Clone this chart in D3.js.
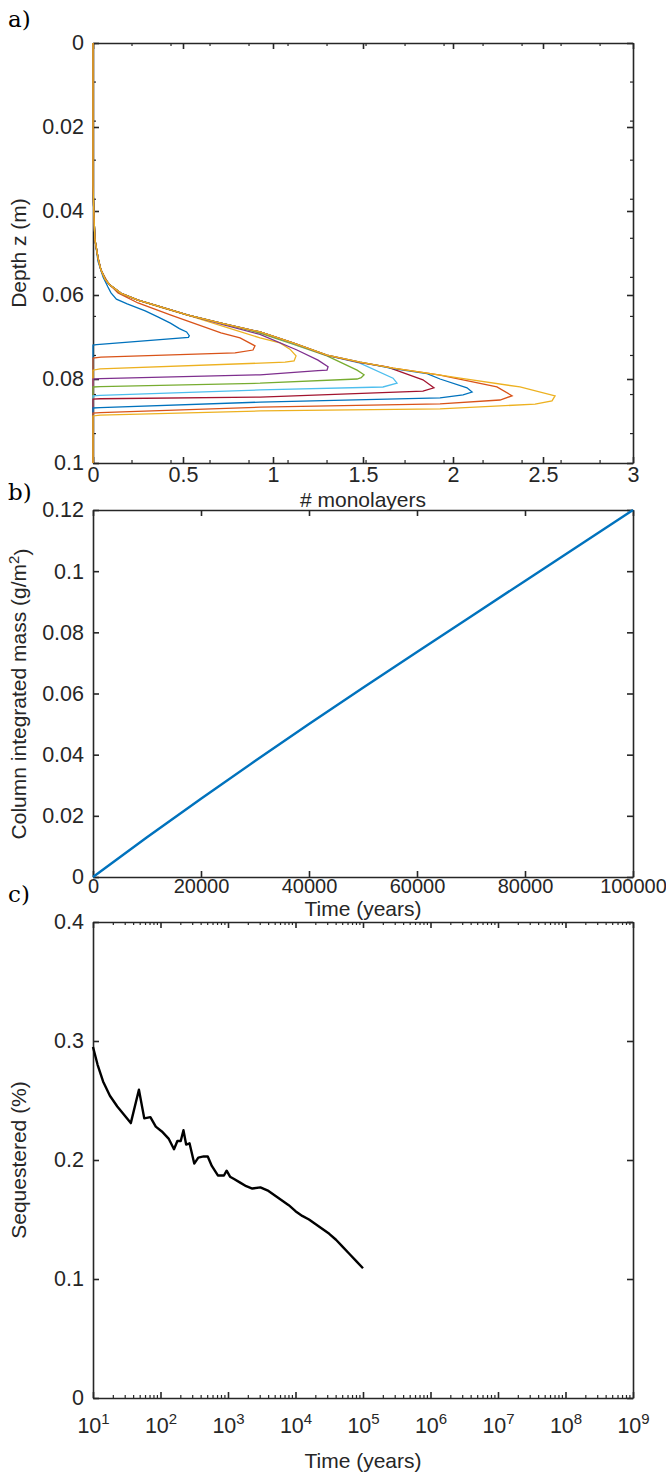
<!DOCTYPE html>
<html lang="en">
<head>
<meta charset="UTF-8">
<title>Monolayer profiles, column mass and sequestered fraction</title>
<script src="https://d3js.org/d3.v7.min.js"></script>
<style>
  body { margin: 0; background: #fff; }
  svg { display: block; font-family: "Liberation Sans", Arial, sans-serif; }
  .title { font-size: 21px; fill: #262626; }
  .tag { font-family: "DejaVu Serif", "Liberation Serif", serif; font-size: 23px; fill: #000; }
</style>
</head>
<body>
<svg width="666" height="1474"></svg>
<script>
// ---- panel a: monolayer profiles (x = # monolayers, z = depth in m)
const depthEnvelope = [[0,0],[0,0.0338],[0.005,0.041],[0.011,0.0469],[0.028,0.0512],[0.044,0.054],
  [0.067,0.0562],[0.094,0.0576],[0.156,0.0596],[0.25,0.0612],[0.344,0.0624],[0.528,0.0648],
  [0.711,0.0667],[0.928,0.0688],[1.111,0.0714],[1.3,0.0743],[1.483,0.076],[1.667,0.0774],
  [1.856,0.0786],[2.039,0.0798],[2.372,0.0819],[2.567,0.084]];
const tail1 = [[0.028,0.052],[0.056,0.0557],[0.083,0.0581],[0.1,0.0595],[0.13,0.061],[0.19,0.0621],[0.29,0.0638],
  [0.36,0.0652],[0.43,0.0667],[0.48,0.068],[0.52,0.0688],[0.535,0.0697],[0.53,0.0701],[0.02,0.0718],[0,0.0719],[0,0.1]];
const tail2 = [[0.05,0.0545],[0.083,0.0571],[0.139,0.0595],[0.25,0.0619],[0.433,0.0648],[0.711,0.069],[0.817,0.0702],
  [0.9,0.0721],[0.889,0.0731],[0.789,0.0738],[0.044,0.0748],[0,0.075],[0,0.1]];
const tail3 = [[0.178,0.06],[0.261,0.0614],[0.372,0.0629],[0.539,0.065],[0.733,0.0676],[0.928,0.0702],[1.039,0.0714],
  [1.094,0.0729],[1.128,0.0745],[1.117,0.0757],[1.067,0.076],[0.039,0.0776],[0,0.0779],[0,0.1]];
const tail4 = [[0.539,0.0649],[0.733,0.0672],[0.928,0.0694],[1.133,0.0731],[1.25,0.0755],[1.306,0.0771],[1.3,0.0779],
  [1.25,0.078],[0.928,0.079],[0.04,0.0799],[0,0.08],[0,0.1]];
const tail5 = [[0.928,0.0691],[1.111,0.0717],[1.3,0.0745],[1.467,0.0779],[1.506,0.079],[1.49,0.0797],[1.467,0.08],
  [0.928,0.081],[0.04,0.0818],[0,0.0819],[0,0.1]];
const tail6 = [[1.111,0.0715],[1.3,0.0744],[1.483,0.0762],[1.667,0.0798],[1.689,0.081],[1.611,0.0819],[0.928,0.0826],
  [0.04,0.0839],[0,0.084],[0,0.1]];
const tail7 = [[1.3,0.0744],[1.483,0.0761],[1.633,0.0771],[1.833,0.0802],[1.894,0.0821],[1.833,0.0829],[0.928,0.0843],
  [0.04,0.0847],[0,0.0848],[0,0.1]];
const tail8 = [[1.667,0.0775],[1.856,0.0787],[1.928,0.08],[2.078,0.0821],[2.106,0.0831],[2.056,0.0838],[1.928,0.0845],
  [0.928,0.0855],[0.04,0.0868],[0,0.0869],[0,0.1]];
const tail9 = [[1.856,0.0786],[1.928,0.0791],[2.244,0.0819],[2.328,0.084],[2.261,0.085],[1.928,0.0859],[0.928,0.0867],
  [0.04,0.088],[0,0.0881],[0,0.1]];
const tail10 = [[2.039,0.0798],[2.372,0.0819],[2.567,0.084],[2.55,0.0852],[2.456,0.086],[1.928,0.0871],[0.928,0.0876],
  [0.04,0.0886],[0,0.0888],[0,0.1]];
const profileTails = [tail1, tail2, tail3, tail4, tail5, tail6, tail7, tail8, tail9, tail10];
const lineColors = ["#0072BD","#D95319","#EDB120","#7E2F8E","#77AC30","#4DBEEE","#A2142F","#0072BD","#D95319","#EDB120"];
const aXTicks = [0, 0.5, 1, 1.5, 2, 2.5, 3];
const aYTicks = [0, 0.02, 0.04, 0.06, 0.08, 0.1];

// ---- panel b: column integrated mass
const massTime = [0, 10000, 20000, 30000, 40000, 50000, 60000, 70000, 80000, 90000, 100000];
const massValue = [0, 0.013, 0.0256, 0.0379, 0.05, 0.0619, 0.0736, 0.0852, 0.0968, 0.1084, 0.12];
const bXTicks = [0, 20000, 40000, 60000, 80000, 100000];
const bYTicks = [0, 0.02, 0.04, 0.06, 0.08, 0.1, 0.12];

// ---- panel c: sequestered fraction
const seqTime = [10, 11.7, 14.1, 17.8, 22.9, 36.3, 47.9, 57.5, 70.8, 85.1, 104.7, 131.8, 158.5, 177.8, 199.5,
  218.8, 239.9, 269.2, 316.2, 363.1, 436.5, 501.2, 575.4, 707.9, 871, 955, 1072, 1230, 1514, 1862, 2291,
  3020, 3981, 5012, 6310, 7943, 10000, 12589, 15849, 19953, 25119, 31623, 39811, 50119, 63096, 79433, 100000];
const seqValue = [0.295, 0.28, 0.266, 0.254, 0.245, 0.231, 0.259, 0.235, 0.236, 0.228, 0.224, 0.218, 0.209, 0.216, 0.216,
  0.225, 0.213, 0.214, 0.197, 0.202, 0.203, 0.203, 0.195, 0.187, 0.187, 0.191, 0.186, 0.184, 0.181, 0.178, 0.176,
  0.177, 0.174, 0.17, 0.166, 0.162, 0.157, 0.153, 0.15, 0.146, 0.142, 0.138, 0.133, 0.127, 0.121, 0.115, 0.109];
const cXTicks = [1e1, 1e2, 1e3, 1e4, 1e5, 1e6, 1e7, 1e8, 1e9];
const cYTicks = [0, 0.1, 0.2, 0.3, 0.4];

const svg = d3.select("svg");
const ink = "#262626";
const left = 93, right = 633;

function addAxes(x, y, xTicks, yTicks, xFmt, yFmt, xPad, xSize) {
  const top = Math.min(...y.range()), bottom = Math.max(...y.range());
  const g = svg.append("g");
  const parts = [
    [d3.axisBottom(x).tickFormat(xFmt).tickPadding(xPad), `translate(0,${bottom})`, xTicks, xSize],
    [d3.axisTop(x).tickFormat(""), `translate(0,${top})`, xTicks, xSize],
    [d3.axisLeft(y).tickFormat(yFmt).tickPadding(9), `translate(${left},0)`, yTicks, 21.5],
    [d3.axisRight(y).tickFormat(""), `translate(${right},0)`, yTicks, 21.5]
  ];
  parts.forEach(([ax, tr, vals, size]) => {
    g.append("g").attr("transform", tr)
      .call(ax.tickValues(vals).tickSizeInner(-6).tickSizeOuter(0))
      .attr("font-family", null).attr("font-size", null)
      .selectAll(".tick text").attr("fill", ink).attr("font-size", size);
  });
  g.selectAll(".domain, .tick line").attr("stroke", ink).attr("stroke-width", 1.6);
  return g;
}

function minorTicks(x, y, xs, ys, len) {
  const top = Math.min(...y.range()), bottom = Math.max(...y.range());
  const g = svg.append("g").attr("stroke", ink).attr("stroke-width", 1.2);
  xs.forEach(v => {
    g.append("line").attr("x1", x(v)).attr("x2", x(v)).attr("y1", bottom).attr("y2", bottom - len);
    g.append("line").attr("x1", x(v)).attr("x2", x(v)).attr("y1", top).attr("y2", top + len);
  });
  ys.forEach(v => {
    g.append("line").attr("y1", y(v)).attr("y2", y(v)).attr("x1", left).attr("x2", left + len);
    g.append("line").attr("y1", y(v)).attr("y2", y(v)).attr("x1", right).attr("x2", right - len);
  });
}

function yTitle(text, cy) {
  return svg.append("text").attr("class", "title").attr("font-size", 21.5)
    .attr("transform", `translate(26,${cy}) rotate(-90)`)
    .attr("text-anchor", "middle").text(text);
}
function xTitle(text, baseline) {
  return svg.append("text").attr("class", "title")
    .attr("x", (left + right) / 2).attr("y", baseline)
    .attr("text-anchor", "middle").text(text);
}
const twoDec = d => d === 0 ? "0" : d3.format(".2~f")(d);

// ================= panel a
const xa = d3.scaleLinear().domain([0, 3]).range([left, right]);
const ya = d3.scaleLinear().domain([0, 0.1]).range([43, 463]);
addAxes(xa, ya, aXTicks, aYTicks, d3.format("~g"), twoDec, 4, 21.5);
minorTicks(xa, ya, d3.range(0.2167, 3, 0.2167), d3.range(0.0093, 0.1, 0.0093), 3);

const lineA = d3.line().x(d => xa(d[0])).y(d => ya(d[1]));
profileTails.forEach((tail, i) => {
  const start = tail[0];
  const pts = depthEnvelope.filter(p => p[0] < start[0] && p[1] < start[1]).concat(tail);
  svg.append("path").datum(pts)
    .attr("fill", "none").attr("stroke", lineColors[i]).attr("stroke-width", 1.3)
    .attr("d", lineA);
});
yTitle("Depth z (m)", 253);
xTitle("# monolayers", 507);
svg.append("text").attr("class", "tag").attr("x", 8).attr("y", 27).text("a)");

// ================= panel b
const xb = d3.scaleLinear().domain([0, 100000]).range([left, right]);
const yb = d3.scaleLinear().domain([0, 0.12]).range([877, 510]);
addAxes(xb, yb, bXTicks, bYTicks, d3.format("d"), twoDec, 2, 20);
svg.append("path").datum(massTime.map((t, i) => [t, massValue[i]]))
  .attr("fill", "none").attr("stroke", "#0072BD").attr("stroke-width", 2.4)
  .attr("d", d3.line().x(d => xb(d[0])).y(d => yb(d[1])));
const tb = yTitle("Column integrated mass (g/m", 694);
tb.append("tspan").attr("dy", "-0.45em").attr("font-size", 15).text("2");
tb.append("tspan").attr("dy", "0.45em").text(")");
xTitle("Time (years)", 916).attr("font-size", 20);
svg.append("text").attr("class", "tag").attr("x", 8).attr("y", 500).text("b)");

// ================= panel c
const xc = d3.scaleLog().domain([1e1, 1e9]).range([left, right]);
const yc = d3.scaleLinear().domain([0, 0.4]).range([1398, 922]);
const gc = addAxes(xc, yc, cXTicks, cYTicks, () => "10", d3.format("~g"), 20, 21.5);
gc.selectAll(".tick text").filter(function () { return d3.select(this).text() === "10"; })
  .each(function (d) {
    d3.select(this).append("tspan").attr("dy", "-0.6em").attr("font-size", 15)
      .text(Math.round(Math.log10(d)));
  });
const logMinor = [];
cXTicks.slice(0, -1).forEach(p => { for (let k = 2; k < 10; k++) logMinor.push(p * k); });
minorTicks(xc, yc, logMinor, [], 3);
svg.append("path").datum(seqTime.map((t, i) => [t, seqValue[i]]))
  .attr("fill", "none").attr("stroke", "#000").attr("stroke-width", 2.4).attr("stroke-linejoin", "round")
  .attr("d", d3.line().x(d => xc(d[0])).y(d => yc(d[1])));
yTitle("Sequestered (%)", 1160);
xTitle("Time (years)", 1468);
svg.append("text").attr("class", "tag").attr("x", 8).attr("y", 902).text("c)");
</script>
</body>
</html>
